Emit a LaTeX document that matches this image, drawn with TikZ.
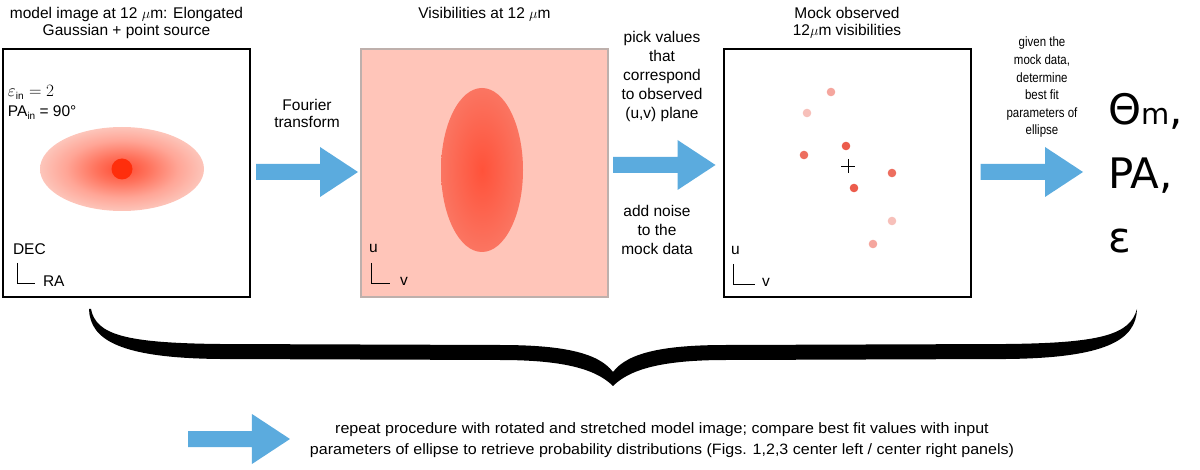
\documentclass[tikz,border=0pt]{standalone}
\usepackage{fontspec}
\setmainfont{Liberation Sans}
\newfontfamily\bigfont{DejaVu Sans}
\usepackage{graphicx}
\usetikzlibrary{calc}
\definecolor{arrowblue}{RGB}{91,171,222}
\definecolor{visfill}{RGB}{255,197,185}
\definecolor{visborder}{RGB}{190,176,172}
\definecolor{dotred}{RGB}{255,46,12}
\definecolor{mcore}{RGB}{255,75,50}
\definecolor{mmidA}{RGB}{255,115,93}
\definecolor{mmidB}{RGB}{255,165,150}
\definecolor{mmidC}{RGB}{252,205,195}
\definecolor{medge}{RGB}{252,230,225}
\definecolor{vcore}{RGB}{255,82,58}
\definecolor{vedge}{RGB}{246,152,137}
\definecolor{dA}{RGB}{245,166,158}
\definecolor{dB}{RGB}{247,192,186}
\definecolor{dC}{RGB}{236,92,76}
\definecolor{dD}{RGB}{237,110,95}
\pgfdeclareradialshading{modelglow}{\pgfpoint{0bp}{0bp}}{color(0bp)=(mcore); color(8bp)=(mmidA); color(17bp)=(mmidB); color(27bp)=(mmidC); color(38bp)=(medge); color(100bp)=(medge)}
\pgfdeclareradialshading{visglow}{\pgfpoint{0bp}{0bp}}{color(0bp)=(vcore); color(50bp)=(vedge); color(100bp)=(vedge)}
\newcommand{\txtblock}[1]{\begin{tabular}[t]{@{}c@{}}#1\end{tabular}}
\newcommand{\txtblockl}[1]{\begin{tabular}[t]{@{}l@{}}#1\end{tabular}}
\newcommand{\fatarrow}[2]{\fill[arrowblue] let \p1=(#1), \p2=(#2) in (\x1,\y1+8pt) -- (\x2-38pt,\y1+8pt) -- (\x2-38pt,\y1+25pt) -- (\x2,\y1) -- (\x2-38pt,\y1-25pt) -- (\x2-38pt,\y1-8pt) -- (\x1,\y1-8pt) -- cycle;}
\tikzset{
  every node/.style={inner sep=0pt, outer sep=0pt},
  panel/.style={draw, line width=2pt, minimum width=247pt, minimum height=248pt},
  lbl/.style={font=\fontsize{15.5}{17}\selectfont},
  lblw/.style={font=\fontsize{15.5}{19}\selectfont},
  small/.style={font=\fontsize{13.5}{17.6}\selectfont},
  dot/.style={circle, minimum size=8.6pt},
  axis/.style={line width=0.9pt}
}
\begin{document}
\begin{tikzpicture}[x=1pt,y=-1pt]
\useasboundingbox (0,0) rectangle (1200,470);
% panels
\node[panel] (box1) at (126.5,173) {};
\node[panel, draw=visborder, fill=visfill, line width=1.5pt] (box2) at (484.5,173) {};
\node[panel] (box3) at (847,173) {};
% model image
\shade[shading=modelglow] (122,169) ellipse [x radius=82pt, y radius=42pt];
\node[circle, fill=dotred, minimum size=21pt] (src) at (122,169) {};
\node[anchor=base west, font=\fontsize{17}{17}\selectfont] (eps) at (8,97) {$\varepsilon_{\mbox{\fontsize{10}{10}\selectfont in}} = 2$};
\node[anchor=base west, lbl] (pa) at (8,117) {PA\raisebox{-2.5pt}{\fontsize{10}{10}\selectfont in} = 90°};
\node[anchor=base west, lbl] (dec) at (13,255) {DEC};
\node[anchor=base west, lbl] (ra) at (43,287) {RA};
\draw[axis] (17,263) -- (17,283) -- (35,283);
% visibilities
\shade[shading=visglow] (482,170) ellipse [x radius=41pt, y radius=82pt];
\node[anchor=base west, lbl] (u2) at (369,253) {u};
\node[anchor=base west, lbl] (v2) at (400,286) {v};
\draw[axis] (371,263) -- (371,283) -- (390,283);
% mock observed
\node[dot, fill=dA] (d1) at (831,92) {};
\node[dot, fill=dB] (d2) at (807,113) {};
\node[dot, fill=dC] (d3) at (846,146) {};
\node[dot, fill=dD] (d4) at (804,155) {};
\node[dot, fill=dD] (d5) at (892,173) {};
\node[dot, fill=dC] (d6) at (854,188) {};
\node[dot, fill=dB] (d7) at (892,221) {};
\node[dot, fill=dA] (d8) at (873,244) {};
\coordinate (ctr) at (848,166);
\draw[line width=0.9pt] ($(ctr)+(-7,0)$) -- ($(ctr)+(7,0)$) ($(ctr)+(0,-7)$) -- ($(ctr)+(0,7)$);
\node[anchor=base west, lbl] (u3) at (731,255) {u};
\node[anchor=base west, lbl] (v3) at (762,287) {v};
\draw[axis] (733,264) -- (733,284) -- (755,284);
% titles
\node[anchor=base, lbl] (t1) at (126.5,19) {\txtblock{model image at 12 $\mu$m: Elongated\\Gaussian + point source}};
\node[anchor=base, lbl] (t2) at (484.5,19) {Visibilities at 12 $\mu$m};
\node[anchor=base, lbl] (t3) at (847,19) {\txtblock{Mock observed\\12$\mu$m visibilities}};
% step labels
\node[anchor=base, lbl] (ft) at (307,111) {\txtblock{Fourier\\transform}};
\node[anchor=base, lblw] (pick) at (662,43) {\txtblock{pick values\\that\\correspond\\to observed\\(u,v) plane}};
\node[anchor=base, lblw] (noise) at (657,217) {\txtblock{add noise\\to the\\mock data}};
\node[anchor=base, small] (given) at (1042,47) {\scalebox{0.85}[1]{\txtblock{given the\\mock data,\\determine\\best fit\\parameters of\\ellipse}}};
\node[anchor=base west, font=\bigfont\fontsize{42}{64}\selectfont] (result) at (1108,125) {\txtblockl{Θ{\fontsize{29}{29}\selectfont m},\\PA,\\ε}};
% arrows
\coordinate (a1s) at ($(box1.east)+(6,-1)$);
\coordinate (a1e) at ($(box2.west)+(-3,-1)$);
\fatarrow{a1s}{a1e}
\coordinate (a2s) at ($(box2.east)+(5,-8)$);
\coordinate (a2e) at ($(box3.west)+(-8,-8)$);
\fatarrow{a2s}{a2e}
\coordinate (a3s) at ($(box3.east)+(10,-1)$);
\coordinate (a3e) at ($(result.base west)+(-25,47)$);
\fatarrow{a3s}{a3e}
% brace
\fill (89,309) .. controls (90,340) and (120,358) .. (220,359) -- (500,360)
  .. controls (560,360) and (595,368) .. (613,386)
  .. controls (631,368) and (666,360) .. (726,360) -- (1006,359)
  .. controls (1106,358) and (1136,340) .. (1137,309)
  .. controls (1130,335) and (1100,343) .. (1006,344) -- (726,345)
  .. controls (666,345) and (628,352) .. (613,372)
  .. controls (598,352) and (560,345) .. (500,345) -- (220,344)
  .. controls (126,343) and (96,335) .. (91,309) -- cycle;
% bottom
\node[anchor=base] (bottomtext) at (662,433) {\resizebox{704pt}{\height}{\fontsize{15}{21}\selectfont\txtblock{repeat procedure with rotated and stretched model image; compare best fit values with input\\parameters of ellipse to retrieve probability distributions (Figs. 1,2,3 center left / center right panels)}}};
\coordinate (b1s) at (188,439);
\coordinate (b1e) at ($(bottomtext.base west)+(-20,6)$);
\fatarrow{b1s}{b1e}
\end{tikzpicture}
\end{document}
